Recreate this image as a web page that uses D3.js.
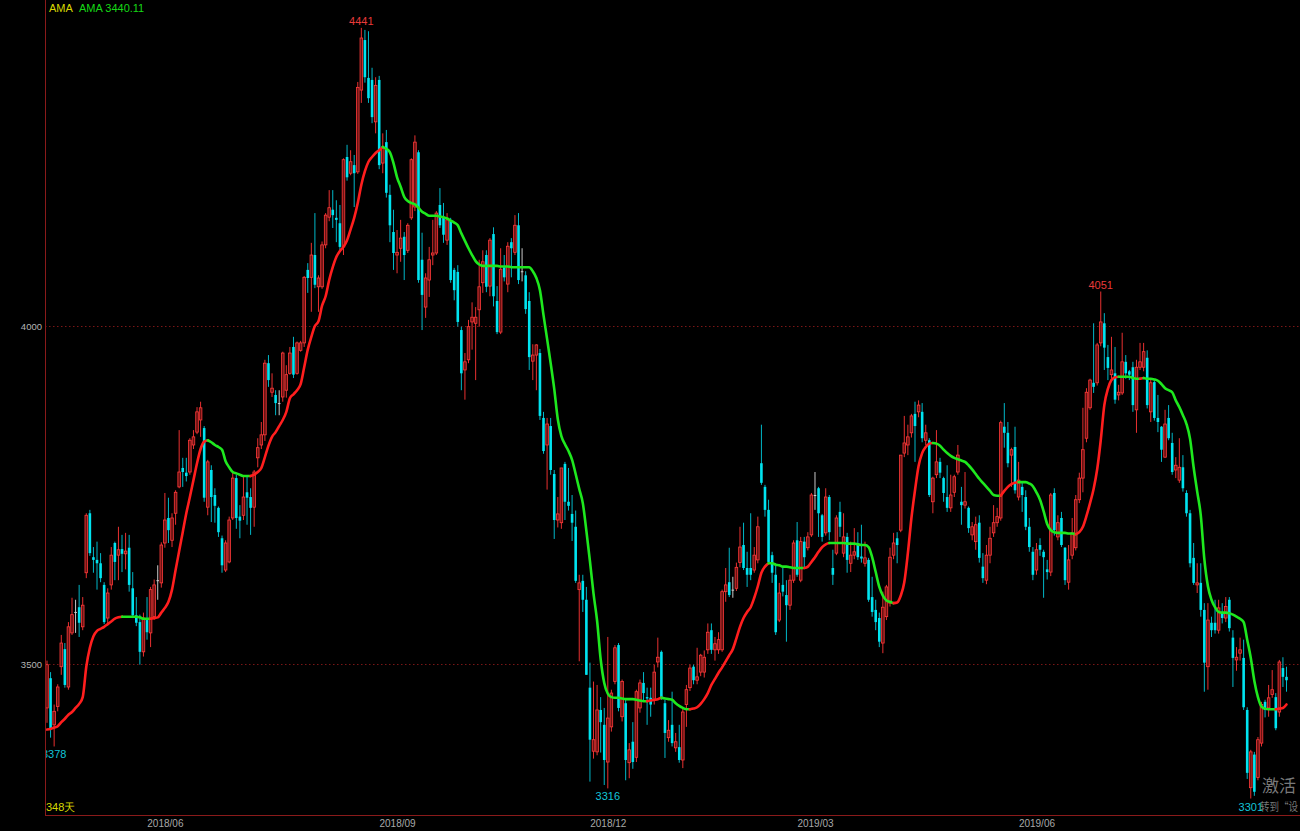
<!DOCTYPE html>
<html><head><meta charset="utf-8">
<script src="https://cdn.jsdelivr.net/npm/d3@7"></script>
<style>html,body{margin:0;padding:0;background:#000;overflow:hidden}svg{display:block;background:#000}</style>
</head><body><svg id="c" width="1300" height="831"></svg>
<script>
// ---------- data ----------
const open=[3435,3479,3410,3437,3496,3522,3466,3546,3577,3584,3555,3635,3723,3658,3654,3649,3617,3568,3617,3679,3661,3670,3663,3672,3612,3572,3562,3518,3565,3546,3570,3624,
3620,3679,3716,3683,3723,3762,3790,3783,3784,3824,3843,3861,3849,3732,3787,3750,3731,3686,3639,3651,3716,3775,3718,3720,3754,3747,3732,3805,3824,3839,
3945,3902,3898,3886,3895,3905,3930,3969,3930,3964,3975,4083,4072,4105,4058,4058,4120,4161,4172,4160,4152,4117,4250,4226,4238,4228,4349,4423,4367,4364,4302,4364,
4241,4272,4194,4139,4105,4115,4132,4112,4160,4176,4257,4098,4028,4068,4105,4108,4179,4160,4127,4157,4083,4080,3994,3935,3950,4006,4004,4024,4064,4105,
4059,4136,4037,3991,4087,4062,4124,4109,4149,4081,4075,4037,3948,3957,3960,3864,3824,3852,3781,3713,3709,3796,3740,3722,3703,3610,3623,3595,3465,3371,3370,
3432,3410,3355,3407,3474,3528,3422,3442,3354,3385,3362,3435,3472,3451,3450,3447,3503,3518,3442,3391,3410,3376,3377,3358,3440,3465,3496,3476,3488,3488,3521,
3550,3521,3521,3521,3607,3621,3610,3612,3650,3676,3642,3642,3639,3654,3797,3762,3728,3661,3632,3565,3617,3602,3587,3624,3683,3624,3681,3672,3691,3750,
3760,3720,3694,3747,3642,3664,3725,3664,3688,3649,3661,3679,3659,3649,3654,3599,3580,3568,3531,3570,3590,3661,3686,3698,3812,3824,3842,3870,3873,3873,3831,
3831,3740,3780,3799,3775,3747,3731,3754,3784,3740,3735,3731,3691,3681,3709,3644,3624,3661,3694,3709,3716,3851,3842,3809,3821,3747,3762,3747,3703,3666,3639,
3676,3666,3640,3636,3753,3688,3716,3672,3621,3661,3672,3743,3775,3834,3879,3916,3916,3975,4004,3954,3928,3930,3898,3901,3947,3933,3939,3876,3939,3939,3953,
3873,3917,3864,3851,3806,3864,3827,3787,3772,3791,3753,3723,3657,3617,3620,3580,3496,3561,3561,3550,3576,3568,3595,3539,3506,3516,3509,3432,3317,3366,3332,3383,3444,3435,3455,3451,3429,3494,3481];
const high=[3505,3488,3440,3470,3543,3531,3562,3598,3595,3617,3599,3723,3728,3673,3681,3664,3621,3612,3673,3681,3703,3691,3694,3691,3636,3599,3573,3576,3599,3614,3625,3646,
3680,3753,3746,3723,3757,3846,3805,3805,3834,3846,3880,3888,3852,3802,3794,3760,3733,3690,3683,3718,3783,3780,3735,3777,3777,3760,3787,3834,3858,3950,
3957,3930,3905,3905,3962,3942,3969,3984,3977,3978,4074,4093,4123,4167,4075,4125,4167,4201,4201,4186,4179,4248,4268,4260,4253,4361,4441,4438,4436,4382,4368,4370,
4285,4290,4209,4172,4142,4157,4139,4152,4248,4282,4260,4138,4078,4117,4157,4170,4204,4182,4167,4160,4086,4090,3999,3960,4009,4035,4028,4098,4112,4112,
4130,4146,4059,4115,4105,4124,4130,4164,4167,4115,4081,4050,3973,3973,3966,3873,3864,3864,3787,3747,3790,3799,3790,3750,3727,3632,3632,3614,3502,3474,3469,
3451,3435,3540,3462,3528,3531,3477,3447,3383,3414,3462,3477,3488,3465,3465,3499,3539,3520,3447,3417,3459,3398,3410,3436,3469,3499,3499,3524,3515,3520,3560,
3560,3540,3547,3610,3642,3672,3629,3650,3703,3709,3666,3723,3673,3718,3854,3765,3743,3666,3649,3620,3642,3624,3632,3683,3710,3688,3688,3695,3753,3784,
3762,3722,3760,3750,3669,3720,3740,3723,3694,3681,3701,3695,3706,3681,3657,3629,3595,3576,3607,3617,3672,3694,3695,3809,3867,3854,3870,3888,3890,3886,3854,
3834,3777,3846,3805,3777,3794,3780,3780,3824,3762,3784,3733,3710,3718,3720,3664,3676,3703,3735,3731,3860,3886,3858,3820,3851,3799,3768,3757,3716,3673,3679,
3686,3669,3654,3753,3760,3720,3725,3673,3676,3716,3750,3783,3879,3908,3922,4004,3975,4051,4019,3972,3984,3969,3913,3990,3957,3935,3947,3950,3975,3975,3964,
3923,3920,3898,3852,3876,3883,3842,3806,3834,3809,3757,3728,3679,3649,3649,3590,3590,3570,3595,3595,3590,3599,3599,3550,3525,3539,3536,3436,3373,3370,3392,3444,3447,3469,3491,3457,3506,3510,3496];
const low=[3413,3391,3378,3430,3484,3465,3462,3543,3546,3540,3550,3627,3660,3635,3610,3621,3559,3560,3610,3624,3624,3636,3640,3607,3568,3556,3499,3511,3536,3525,3565,3595,
3613,3672,3679,3673,3706,3760,3762,3770,3780,3818,3840,3836,3740,3720,3710,3709,3688,3635,3636,3649,3713,3700,3686,3713,3706,3691,3703,3791,3818,3830,
3910,3895,3868,3868,3888,3894,3928,3923,3928,3962,3969,4049,4021,4056,4021,4055,4115,4155,4145,4124,4112,4105,4215,4223,4176,4225,4330,4360,4330,4300,4285,4232,
4226,4190,4124,4083,4078,4095,4068,4108,4157,4170,4064,3994,4012,4043,4090,4105,4145,4123,4120,4064,4038,3999,3905,3891,3945,3965,3920,3999,4049,4050,
4044,4029,3988,3988,4066,4050,4072,4105,4062,4066,4018,3935,3920,3905,3861,3811,3758,3780,3685,3702,3700,3713,3727,3682,3620,3504,3577,3484,3326,3360,3365,
3369,3321,3316,3400,3470,3430,3415,3328,3331,3345,3355,3428,3444,3410,3422,3440,3495,3447,3361,3385,3378,3370,3354,3346,3407,3460,3470,3470,3482,3480,3515,
3515,3505,3515,3518,3592,3599,3598,3608,3643,3639,3614,3624,3635,3649,3765,3718,3649,3620,3543,3562,3600,3533,3580,3620,3629,3621,3643,3668,3688,3728,
3688,3681,3690,3683,3617,3661,3688,3658,3635,3636,3655,3654,3650,3644,3592,3570,3550,3525,3516,3565,3585,3655,3649,3695,3806,3809,3835,3799,3865,3828,3824,
3747,3723,3775,3775,3740,3725,3725,3747,3780,3706,3730,3694,3683,3669,3650,3620,3618,3649,3688,3703,3712,3820,3791,3762,3752,3742,3725,3698,3666,3624,3632,
3660,3598,3625,3630,3690,3683,3673,3617,3610,3655,3668,3738,3754,3828,3876,3901,3912,3970,3935,3920,3922,3885,3890,3898,3922,3920,3873,3842,3935,3933,3878,
3858,3860,3843,3799,3805,3831,3780,3775,3768,3755,3718,3643,3617,3605,3570,3459,3462,3540,3545,3545,3560,3562,3548,3466,3490,3505,3432,3330,3301,3305,3328,3378,3421,3422,3450,3402,3422,3466,3459];
const close=[3499,3405,3430,3466,3531,3469,3555,3573,3577,3561,3587,3720,3664,3654,3649,3627,3562,3605,3661,3651,3669,3663,3667,3617,3572,3561,3518,3568,3547,3610,3617,3624,
3676,3713,3698,3716,3754,3784,3784,3778,3831,3836,3873,3879,3746,3799,3747,3734,3695,3646,3679,3713,3775,3716,3712,3747,3746,3731,3784,3820,3839,3945,
3920,3908,3886,3886,3960,3928,3960,3928,3975,3975,4072,4071,4105,4061,4071,4120,4164,4175,4164,4157,4117,4246,4220,4243,4226,4353,4426,4368,4337,4309,4356,4238,
4263,4197,4149,4108,4109,4130,4105,4149,4246,4272,4068,4046,4071,4098,4108,4167,4149,4135,4157,4068,4053,4006,3930,3947,3999,4013,4013,4058,4095,4058,
4127,4044,3991,4084,4072,4118,4115,4149,4068,4081,4025,3954,3957,3972,3867,3815,3855,3787,3713,3722,3790,3740,3734,3709,3623,3620,3595,3484,3388,3388,3432,
3414,3358,3420,3457,3524,3435,3474,3358,3373,3355,3459,3472,3457,3449,3440,3488,3510,3451,3398,3402,3383,3385,3358,3429,3462,3494,3476,3481,3513,3510,3547,
3521,3530,3536,3607,3617,3602,3610,3643,3673,3642,3632,3632,3661,3703,3768,3728,3651,3635,3547,3605,3607,3587,3624,3679,3632,3681,3658,3688,3750,3750,
3723,3688,3747,3695,3632,3716,3703,3688,3654,3661,3666,3658,3656,3657,3595,3577,3562,3533,3584,3614,3658,3679,3676,3809,3827,3836,3867,3852,3883,3834,3842,
3750,3775,3799,3783,3753,3731,3750,3777,3809,3735,3740,3701,3703,3706,3657,3627,3661,3686,3709,3718,3857,3842,3797,3817,3757,3772,3750,3703,3673,3632,3669,
3669,3658,3636,3750,3698,3709,3676,3624,3654,3694,3743,3775,3817,3902,3920,3910,3972,4006,3968,3938,3935,3891,3902,3947,3930,3928,3883,3939,3947,3962,3883,
3916,3864,3858,3817,3855,3834,3784,3794,3791,3760,3723,3649,3620,3620,3580,3502,3565,3550,3550,3583,3568,3585,3553,3509,3510,3521,3436,3339,3370,3311,3388,3440,3432,3450,3462,3405,3503,3481,3476];
const ama=[3403,3404,3406,3408,3414,3419,3425,3429,3435,3441,3451,3496,3524,3541,3549,3552,3555,3559,3563,3567,3569,3570,3570,3570,3570,3570,3569,3567,3567,3567,3568,3569,
3576,3583,3592,3610,3639,3667,3695,3723,3747,3772,3797,3818,3829,3831,3828,3824,3821,3817,3800,3791,3784,3782,3780,3778,3778,3778,3780,3784,3790,3806,
3823,3836,3843,3852,3861,3873,3893,3899,3905,3914,3939,3965,3984,4000,4007,4030,4044,4068,4087,4102,4111,4117,4127,4143,4160,4182,4209,4229,4243,4250,4256,4260,
4265,4262,4257,4241,4220,4206,4191,4185,4182,4180,4175,4169,4166,4163,4163,4163,4162,4161,4159,4156,4153,4149,4137,4126,4115,4105,4096,4091,4089,4089,
4089,4089,4089,4088,4088,4088,4087,4087,4087,4087,4087,4087,4081,4071,4053,4016,3981,3945,3907,3862,3837,3825,3815,3802,3781,3759,3738,3697,3652,3604,3564,
3507,3472,3456,3451,3450,3450,3449,3448,3448,3448,3447,3446,3445,3445,3446,3447,3448,3450,3449,3448,3447,3442,3438,3435,3433,3433,3434,3436,3441,3448,3457,
3469,3478,3487,3495,3504,3513,3522,3538,3555,3568,3577,3584,3598,3615,3635,3644,3649,3649,3647,3646,3644,3644,3643,3642,3642,3642,3642,3644,3651,3658,
3666,3673,3677,3679,3679,3679,3679,3679,3678,3678,3678,3677,3676,3676,3673,3658,3636,3614,3601,3594,3592,3590,3591,3601,3621,3664,3716,3757,3793,3812,3821,
3826,3827,3826,3823,3817,3812,3808,3805,3803,3801,3799,3794,3788,3781,3774,3768,3762,3756,3750,3749,3749,3756,3762,3766,3768,3769,3769,3769,3767,3763,3754,
3743,3726,3707,3698,3695,3694,3694,3694,3693,3693,3692,3695,3703,3719,3738,3759,3788,3831,3883,3907,3920,3924,3925,3925,3925,3925,3923,3922,3922,3923,3922,
3922,3921,3919,3914,3908,3905,3902,3890,3880,3868,3855,3833,3791,3755,3720,3655,3615,3595,3584,3577,3576,3576,3575,3573,3570,3567,3562,3536,3509,3475,3451,3437,3434,3433,3433,3433,3434,3435,3440.11];
const xTickLabels=["2018/06","2018/09","2018/12","2019/03","2019/06"];
const xTickIndex=[33,98,157,215,277];
const yTickValues=[3500,4000];
const marks=[{i:88,type:"high"},{i:295,type:"high"},{i:157,type:"low"},{i:2,type:"low"},{i:337,type:"low"}];
const indicatorName="AMA";
const dayCountLabel="348天";
const watermark=["激活","转到“设"];

// ---------- drawing ----------
const n=close.length;
const svg=d3.select("#c");
const L=45, B=815, R=1300;
const x=d3.scaleLinear().domain([0,n-1]).range([47,1286.5]);
const y=d3.scaleLinear().domain([3500,4000]).range([664,326]);
const FONT="'Liberation Sans', Arial, sans-serif";

svg.append("defs").append("clipPath").attr("id","plot")
  .append("rect").attr("x",L+0.5).attr("y",0).attr("width",R-L).attr("height",B);

// grid lines (dotted)
svg.append("g").selectAll("line").data(yTickValues).join("line")
  .attr("x1",L).attr("x2",R).attr("y1",d=>Math.round(y(d))+0.5).attr("y2",d=>Math.round(y(d))+0.5)
  .attr("stroke","#7a1616").attr("stroke-dasharray","1.5,2.5").attr("stroke-width",1);

const plot=svg.append("g").attr("clip-path","url(#plot)");

const idx=d3.range(n);
const col=i=>close[i]>open[i]?"up":(close[i]<open[i]?"down":"flat");
const wickColor={up:"#e83030",down:"#00b8c8",flat:"#c8c8c8"};
// wicks
plot.append("g").selectAll("line").data(idx).join("line")
  .attr("x1",i=>x(i)).attr("x2",i=>x(i))
  .attr("y1",i=>y(high[i])).attr("y2",i=>y(low[i]))
  .attr("stroke",i=>wickColor[col(i)]).attr("stroke-width",1);
// bodies
const bw=2.6;
plot.append("g").selectAll("rect").data(idx).join("rect")
  .attr("x",i=>x(i)-bw/2).attr("width",bw)
  .attr("y",i=>y(Math.max(open[i],close[i])))
  .attr("height",i=>Math.max(1,Math.abs(y(open[i])-y(close[i]))))
  .attr("fill",i=>col(i)==="up"?"#6a1212":(col(i)==="down"?"#00e4f0":"#d0d0d0"))
  .attr("stroke",i=>col(i)==="up"?"#ff3a3a":"none")
  .attr("stroke-width",0.8);

// AMA line, red when rising, green otherwise
const line=d3.line().x(i=>x(i)).y(i=>y(ama[i])).curve(d3.curveMonotoneX);
let runs=[], cur=null;
for(let i=1;i<n;i++){
  const c=ama[i]>ama[i-1]?"#ff1e1e":"#1ee81e";
  if(!cur||cur.c!==c){cur={c,pts:[i-1]};runs.push(cur);}
  cur.pts.push(i);
}
plot.append("g").selectAll("path").data(runs).join("path")
  .attr("d",r=>line(r.pts)).attr("fill","none").attr("stroke",r=>r.c)
  .attr("stroke-width",2.6).attr("stroke-linecap","round");

// high / low marks
plot.append("g").selectAll("text").data(marks).join("text")
  .attr("x",d=>x(d.i)).attr("y",d=>d.type==="high"?y(high[d.i])-3:y(low[d.i])+12)
  .attr("text-anchor","middle").attr("font-family",FONT).attr("font-size",11)
  .attr("fill",d=>d.type==="high"?"#e83a3a":"#12c4d8")
  .text(d=>Math.round(d.type==="high"?high[d.i]:low[d.i]));

// axes frame
svg.append("line").attr("x1",L+0.5).attr("x2",L+0.5).attr("y1",0).attr("y2",B).attr("stroke","#8a1a1a");
svg.append("line").attr("x1",L).attr("x2",R).attr("y1",B+0.5).attr("y2",B+0.5).attr("stroke","#8a1a1a");

// y axis labels
const ya=svg.append("g").attr("transform",`translate(${L},0)`)
  .call(d3.axisLeft(y).tickValues(yTickValues).tickSize(0).tickPadding(3).tickFormat(d3.format("d")));
ya.select(".domain").remove();
ya.selectAll("text").attr("fill","#b4b4b4").attr("font-family",FONT).attr("font-size",9.5);

// x axis labels
const xa=svg.append("g").attr("transform",`translate(0,${B})`)
  .call(d3.axisBottom(x).tickValues(xTickIndex).tickSize(0).tickPadding(5).tickFormat((d,k)=>xTickLabels[k]));
xa.select(".domain").remove();
xa.selectAll("text").attr("fill","#a8a8a8").attr("font-family",FONT).attr("font-size",10);

// legend
svg.append("text").attr("x",49).attr("y",12).attr("font-family",FONT).attr("font-size",11)
  .attr("fill","#d8d800").text(indicatorName);
svg.append("text").attr("x",79).attr("y",12).attr("font-family",FONT).attr("font-size",11)
  .attr("fill","#16d816").text(indicatorName+" "+ama[n-1].toFixed(2));
svg.append("text").attr("x",46).attr("y",811).attr("font-family",FONT).attr("font-size",11)
  .attr("fill","#d8d800").text(dayCountLabel);

// system watermark (visible part only)
svg.append("text").attr("x",1262).attr("y",792).attr("font-family","'Noto Sans CJK SC',sans-serif").attr("font-size",17)
  .attr("fill","#9a9a9a").attr("fill-opacity",0.8).text(watermark[0]);
svg.append("text").attr("x",1260).attr("y",811).attr("font-family","'Noto Sans CJK SC',sans-serif").attr("font-size",11)
  .attr("textLength",38).attr("lengthAdjust","spacingAndGlyphs")
  .attr("fill","#9a9a9a").attr("fill-opacity",0.8).text(watermark[1]);
</script></body></html>
